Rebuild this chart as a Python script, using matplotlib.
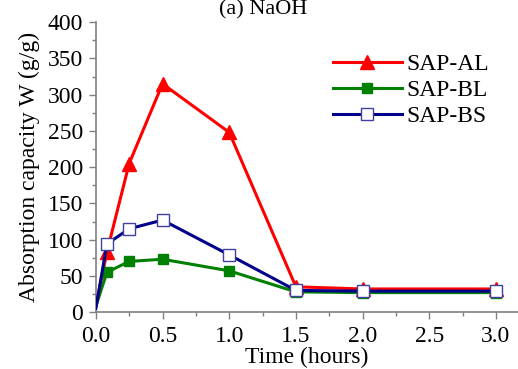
import numpy as np
import matplotlib.pyplot as plt
from matplotlib.ticker import MultipleLocator

# Data
time = [0, 0.083, 0.25, 0.5, 1.0, 1.5, 2.0, 3.0]
sap_al = [8, 83, 205, 315, 248, 35, 32, 32]
sap_bl = [8, 55, 70, 73, 57, 28, 27, 27]
sap_bs = [5, 94, 115, 127, 79, 30, 29, 29]

plt.rcParams['font.family'] = ['Liberation Serif', 'DejaVu Serif']

fig = plt.figure(figsize=(5.18, 3.69), dpi=100)
ax = fig.add_axes([0.185, 0.154, 0.815, 0.786])

mk = list(range(1, len(time)))
ax.plot(time, sap_al, color='#ff0000', lw=2.2, marker='^', ms=10, markevery=mk, label='SAP-AL', zorder=3)
ax.plot(time, sap_bl, color='#008000', lw=2.2, marker='s', ms=7, markevery=mk, label='SAP-BL', zorder=3)
ax.plot(time, sap_bs, color='#00008b', lw=2.2, marker='s', ms=8, markevery=mk,
        markerfacecolor='white', markeredgecolor='#4040a0', markeredgewidth=1, label='SAP-BS', zorder=4)

ax.set_xlim(0, 3.165)
ax.set_ylim(0, 400)
ax.xaxis.set_major_locator(MultipleLocator(0.5))
ax.xaxis.set_minor_locator(MultipleLocator(0.25))
ax.yaxis.set_major_locator(MultipleLocator(50))
ax.yaxis.set_minor_locator(MultipleLocator(25))
ax.set_xticks([0, 0.5, 1.0, 1.5, 2.0, 2.5, 3.0])
ax.set_xticklabels(['0.0', '0.5', '1.0', '1.5', '2.0', '2.5', '3.0'])

for s in ['top', 'right']:
    ax.spines[s].set_visible(False)
for s in ['left', 'bottom']:
    ax.spines[s].set_color('#808080')
    ax.spines[s].set_linewidth(1.2)
ax.tick_params(which='major', direction='out', length=5, color='#808080', labelsize=17, width=1)
ax.tick_params(axis='x', which='major', pad=5)
ax.tick_params(axis='y', which='major', pad=4)
ax.tick_params(which='minor', direction='out', length=3, color='#808080', width=1)

ax.set_xlabel('Time (hours)', fontsize=17, labelpad=0)
ax.set_ylabel('Absorption capacity W (g/g)', fontsize=17, labelpad=6)
fig.text(0.508, 1.0, '(a) NaOH', fontsize=16, ha='center', va='top')

ax.legend(loc='upper left', bbox_to_anchor=(0.54, 0.925), frameon=False, fontsize=17,
          handlelength=2.9, handletextpad=0.2, labelspacing=0.2, borderaxespad=0.0)

plt.savefig('out.png', dpi=100)
